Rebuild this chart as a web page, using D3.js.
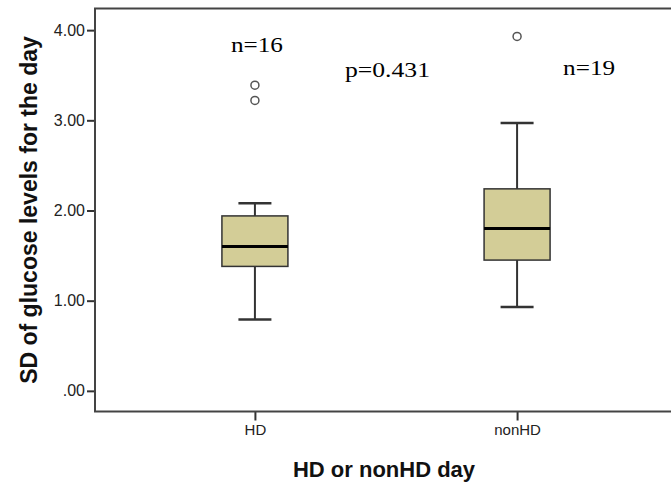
<!DOCTYPE html>
<html>
<head>
<meta charset="utf-8">
<script src="https://cdn.jsdelivr.net/npm/d3@7"></script>
<style>
  body { margin: 0; background: #fff; }
  .tick text { font-family: Arial, "Liberation Sans", sans-serif; fill: #222; }
</style>
</head>
<body>
<div id="vis"></div>
<script>
// Box plot of SD of glucose levels, HD vs nonHD day

// Categories and box statistics
var groups = ['HD', 'nonHD'];
var whiskerLow = [0.79, 0.93];
var q1 = [1.38, 1.45];
var median = [1.60, 1.80];
var q3 = [1.94, 2.24];
var whiskerHigh = [2.08, 2.97];
var outliersHD = [3.39, 3.22];
var outliersNonHD = [3.93];
var yTicks = [0, 1, 2, 3, 4];
var counts = ['n=16', 'n=19'];
var pLabel = 'p=0.431';

var W = 671, H = 486;

// Plot frame in pixels
var frame = { left: 95, right: 677, top: 8.5, bottom: 411.5 };

var svg = d3.select('#vis')
    .append('svg')
    .attr('width', W)
    .attr('height', H);

// Scales
var xScale = d3.scalePoint()
    .domain(groups)
    .range([frame.left, frame.right])
    .padding(0.61);

var yScale = d3.scaleLinear()
    .domain([-0.229, 4.24])
    .range([frame.bottom, frame.top]);

// Axes
var yAxis = d3.axisLeft(yScale)
    .tickValues(yTicks)
    .tickSize(8)
    .tickPadding(2)
    .tickFormat(function(d) { return d === 0 ? '.00' : d3.format('.2f')(d); });

var xAxis = d3.axisBottom(xScale)
    .tickSize(9)
    .tickPadding(4);

var gy = svg.append('g')
    .attr('transform', 'translate(' + frame.left + ',0)')
    .call(yAxis);
gy.select('.domain').remove();
gy.selectAll('.tick line').attr('stroke', '#333').attr('stroke-width', 2);
gy.selectAll('.tick text').style('font-size', '16px');

var gx = svg.append('g')
    .attr('transform', 'translate(0,' + frame.bottom + ')')
    .call(xAxis);
gx.select('.domain').remove();
gx.selectAll('.tick line').attr('stroke', '#333').attr('stroke-width', 2);
gx.selectAll('.tick text').style('font-size', '15px');

// Frame (left, top, bottom)
svg.append('path')
    .attr('d', 'M' + W + ',' + frame.top + 'H' + frame.left + 'V' + frame.bottom + 'H' + W)
    .attr('fill', 'none')
    .attr('stroke', '#444')
    .attr('stroke-width', 2);

// Boxes
var boxW = 66, capW = 33;
var boxes = svg.append('g').selectAll('g')
    .data(groups)
    .enter().append('g');

// whisker stems
boxes.append('line')
    .attr('x1', function(d) { return xScale(d); })
    .attr('x2', function(d) { return xScale(d); })
    .attr('y1', function(d, i) { return yScale(whiskerLow[i]); })
    .attr('y2', function(d, i) { return yScale(whiskerHigh[i]); })
    .attr('stroke', '#333')
    .attr('stroke-width', 2);

// caps
[whiskerLow, whiskerHigh].forEach(function(arr) {
    boxes.append('line')
        .attr('x1', function(d) { return xScale(d) - capW / 2; })
        .attr('x2', function(d) { return xScale(d) + capW / 2; })
        .attr('y1', function(d, i) { return yScale(arr[i]); })
        .attr('y2', function(d, i) { return yScale(arr[i]); })
        .attr('stroke', '#333')
        .attr('stroke-width', 2.5);
});

// box body
boxes.append('rect')
    .attr('x', function(d) { return xScale(d) - boxW / 2; })
    .attr('y', function(d, i) { return yScale(q3[i]); })
    .attr('width', boxW)
    .attr('height', function(d, i) { return yScale(q1[i]) - yScale(q3[i]); })
    .attr('fill', '#d3cd97')
    .attr('stroke', '#333')
    .attr('stroke-width', 1.5);

// median
boxes.append('line')
    .attr('x1', function(d) { return xScale(d) - boxW / 2; })
    .attr('x2', function(d) { return xScale(d) + boxW / 2; })
    .attr('y1', function(d, i) { return yScale(median[i]); })
    .attr('y2', function(d, i) { return yScale(median[i]); })
    .attr('stroke', '#000')
    .attr('stroke-width', 3);

// Outliers
var outlierData = outliersHD.map(function(v) { return { g: 'HD', v: v }; })
    .concat(outliersNonHD.map(function(v) { return { g: 'nonHD', v: v }; }));

svg.append('g').selectAll('circle')
    .data(outlierData)
    .enter().append('circle')
    .attr('cx', function(d) { return xScale(d.g); })
    .attr('cy', function(d) { return yScale(d.v); })
    .attr('r', 4)
    .attr('fill', '#fff')
    .attr('stroke', '#555')
    .attr('stroke-width', 1.5);

// Annotations
var serif = '"Liberation Serif", "Times New Roman", serif';
svg.append('text')
    .attr('x', xScale('HD') - 24)
    .attr('y', 52)
    .attr('textLength', 52)
    .attr('lengthAdjust', 'spacingAndGlyphs')
    .style('font-family', serif)
    .style('font-size', '21px')
    .text(counts[0]);

svg.append('text')
    .attr('x', xScale('nonHD') + 46)
    .attr('y', 75)
    .attr('textLength', 52)
    .attr('lengthAdjust', 'spacingAndGlyphs')
    .style('font-family', serif)
    .style('font-size', '21px')
    .text(counts[1]);

svg.append('text')
    .attr('x', 345)
    .attr('y', 76.5)
    .attr('textLength', 85)
    .attr('lengthAdjust', 'spacingAndGlyphs')
    .style('font-family', serif)
    .style('font-size', '21px')
    .text(pLabel);

// Axis titles
svg.append('text')
    .attr('transform', 'translate(' + 37 + ',' + (frame.top + frame.bottom) / 2 + ') rotate(-90)')
    .attr('text-anchor', 'middle')
    .style('font-family', 'Arial, "Liberation Sans", sans-serif')
    .style('font-weight', 'bold')
    .style('font-size', '23px')
    .style('fill', '#111')
    .text('SD of glucose levels for the day');

svg.append('text')
    .attr('x', 384)
    .attr('y', 477)
    .attr('text-anchor', 'middle')
    .style('font-family', 'Arial, "Liberation Sans", sans-serif')
    .style('font-weight', 'bold')
    .style('font-size', '22px')
    .style('fill', '#111')
    .text('HD or nonHD day');
</script>
</body>
</html>
